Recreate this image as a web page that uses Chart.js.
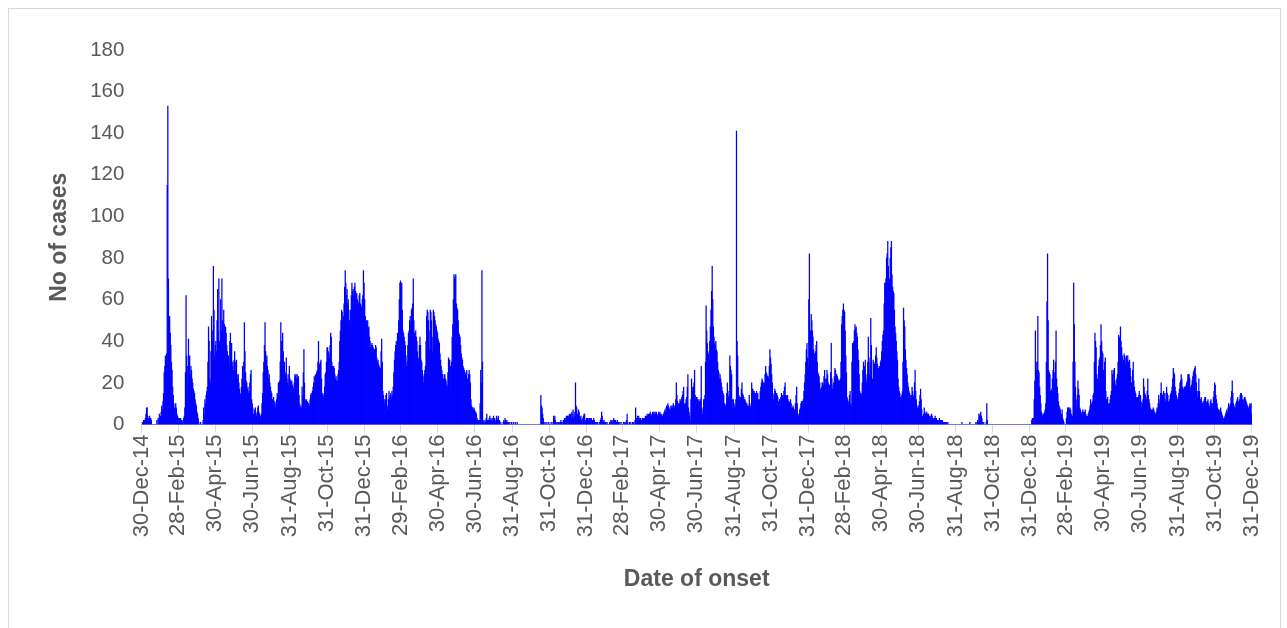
<!DOCTYPE html>
<html>
<head>
<meta charset="utf-8">
<script src="https://cdn.jsdelivr.net/npm/chart.js@4.4.1/dist/chart.umd.min.js"></script>
<style>
  body { margin: 0; background: #fff; }
  #wrap { position: relative; width: 1287px; height: 628px; }
  #frame { position: absolute; left: 8px; top: 8px; width: 1271px; height: 640px; border: 1px solid #d9d9d9; pointer-events: none; }
</style>
</head>
<body>
<div id="wrap">
  <canvas id="epiChart" width="1287" height="628"></canvas>
  <div id="frame"></div>
</div>
<script>
// daily counts, 30-Dec-2014 .. 31-Dec-2019, one line per month
const cases2014 = [0, 1];

const cases2015 = [
  1,2,2,2,3,5,8,8,4,3, 3,4,3,3,2,0,0,0,0,0, 0,0,0,2,0,3,2,5,3,4, 6,
  9,7,11,15,25,28,33,32,34,115, 153,70,52,52,44,38,30,26,18,14, 10,8,6,10,8,5,4,3,
  3,3,2,3,2,2,1,2,3,4, 8,25,62,33,28,18,41,30,33,24, 28,26,22,20,17,16,15,12,10,9, 6,
  5,3,1,0,0,1,0,0,0,2, 8,5,12,10,14,16,18,30,47,40, 22,20,35,52,45,40,76,55,33,38,
  40,35,50,65,45,70,40,35,60,45, 70,50,42,55,48,40,47,44,38,35, 30,33,28,40,44,32,39,28,30,26, 31,
  35,30,26,31,24,22,24,20,17,15, 14,18,22,28,20,30,49,35,25,21, 20,17,18,15,16,20,24,26,12,10,
  8,5,4,7,8,5,4,6,8,9, 6,5,3,4,5,10,15,25,30,38, 49,35,31,33,28,26,22,24,20,18, 16,
  15,12,10,13,9,11,8,10,12,15, 14,20,18,21,30,49,40,38,44,35, 28,30,25,24,32,22,20,24,19,28, 22,
  21,20,21,19,18,17,20,24,23,24, 22,24,22,23,14,10,8,9,8,18, 14,25,36,20,12,11,12,10,11,10,
  10,9,12,14,15,13,16,18,20,23, 18,24,22,25,26,30,40,28,29,30, 31,22,14,15,13,14,18,24,25,30, 37,
  37,35,34,32,38,44,42,30,28,25, 28,27,24,22,23,21,21,24,26,30, 40,45,50,55,54,50,52,58,66,74,
  68,62,65,58,60,55,50,45,55,62, 68,64,65,62,66,68,64,62,63,60, 59,58,62,63,58,57,56,60,62,74, 68
];

const cases2016 = [
  60,52,48,50,47,50,46,47,42,40, 37,38,39,38,37,36,36,35,38,37, 32,30,31,29,28,26,27,35,41,30, 16,
  14,12,10,12,14,15,9,7,12,16, 13,14,15,13,16,14,18,25,31,35, 38,40,37,44,42,50,60,68,69,
  66,68,55,45,44,42,40,38,33,28, 30,38,44,45,50,52,48,55,56,58, 70,50,44,42,45,42,40,35,32,31, 38,
  42,38,31,30,26,23,20,24,26,28, 40,52,55,54,50,45,36,55,54,50, 42,35,55,54,52,50,48,47,45,44,
  41,40,39,34,31,28,26,24,20,22, 24,24,22,21,19,18,25,32,31,31, 28,15,30,42,48,60,72,70,71,72, 58,
  56,55,50,44,43,42,38,34,32,31, 28,27,26,25,24,25,26,22,20,24, 26,24,20,12,9,8,8,7,8,7,
  6,6,5,3,2,2,1,2,10,26, 20,74,30,2,1,1,2,1,3,5, 2,1,2,3,4,2,3,2,1,3, 4,
  2,3,1,2,4,3,2,4,1,2, 0,1,0,0,0,1,2,1,3,2, 1,2,1,0,1,0,1,0,0,1, 0,
  0,1,0,0,1,0,0,1,0,0, 0,0,0,0,0,0,0,0,0,0, 0,0,0,0,0,0,0,0,0,0,
  0,0,0,0,0,0,0,0,0,0, 0,0,0,0,0,0,14,9,8,5, 3,1,0,1,0,0,1,0,0,1, 0,
  0,0,1,0,0,1,4,3,4,2, 1,0,1,0,1,1,0,1,2,1, 1,0,2,1,3,2,3,4,2,4,
  4,3,5,4,5,3,6,5,7,3, 4,6,20,9,8,5,4,7,6,4, 3,4,2,1,3,4,5,5,2,1, 3
];

const cases2017 = [
  3,3,2,3,3,2,3,3,2,2, 2,3,2,1,1,1,0,1,0,0, 1,1,2,3,6,4,2,1,2,1, 1,
  1,0,1,0,0,0,1,0,2,1, 2,1,2,3,2,1,2,1,1,2, 1,1,0,1,0,1,0,0,
  0,1,0,1,0,1,2,5,1,0, 0,1,0,1,0,0,1,0,1,0, 2,8,3,2,4,3,4,3,2,3, 2,
  2,3,2,3,2,3,4,3,4,5, 4,5,4,5,6,5,4,5,6,5, 6,5,6,5,6,5,4,5,6,5,
  6,5,4,5,4,4,5,6,7,6, 8,9,8,10,9,8,7,7,9,8, 9,8,10,9,8,9,12,20,14,11, 10,
  9,10,12,11,12,13,14,16,18,10, 9,10,12,13,18,24,8,6,4,2, 12,22,18,16,18,20,26,14,12,13,
  13,12,11,12,11,10,12,28,8,5, 7,12,12,14,30,57,45,39,35,34, 31,40,47,55,64,76,60,47,42,39, 38,
  40,36,35,30,26,25,22,24,22,20, 18,16,15,14,10,8,9,10,15,20, 16,13,14,33,28,26,24,12,8,12, 10,
  8,9,12,141,40,33,18,14,13,12, 13,17,20,15,14,13,12,12,11,10, 10,9,8,9,14,10,8,9,20,17,
  17,16,16,15,15,14,16,15,15,12, 7,12,16,18,20,22,21,20,19,20, 24,28,25,24,23,23,22,28,36,32, 29,
  24,20,15,12,14,17,16,15,15,14, 13,11,10,12,12,13,15,14,14,13, 16,18,20,14,13,14,14,12,11,10,
  11,12,10,8,8,9,8,7,7,10, 14,18,10,5,4,5,7,8,10,11, 11,11,12,16,20,24,30,36,39,32, 28
];

const cases2018 = [
  60,82,40,45,53,50,45,42,36,34, 34,35,38,40,30,25,24,23,20,17, 16,18,20,20,19,23,26,22,19,22, 26,
  24,20,19,19,18,25,39,22,17,19, 20,23,27,26,24,24,23,22,21,21, 21,22,30,48,52,55,58,55,
  54,45,33,25,13,12,11,10,14,16, 10,9,30,39,38,40,45,48,46,47, 44,42,36,31,24,16,15,15,14,20, 26,
  30,26,28,31,24,20,22,30,42,32, 24,30,51,38,18,22,31,30,29,29, 33,37,32,29,26,27,28,28,30,31,
  35,40,43,45,58,68,68,70,80,82, 88,76,68,70,80,85,88,72,66,64, 63,55,47,44,40,35,31,22,18,16, 15,
  13,12,14,16,30,56,50,47,36,31, 27,24,20,18,16,15,14,12,14,18, 16,13,14,20,26,16,12,9,8,7,
  9,11,14,17,12,7,4,2,5,8, 6,5,5,6,5,5,5,4,4,3, 4,5,4,3,2,3,3,4,3,3, 2,
  2,2,1,3,2,2,2,1,2,1, 1,1,1,1,0,1,0,1,0,0, 0,0,0,0,0,0,0,0,0,0, 0,
  0,0,0,0,0,0,0,0,0,1, 0,0,0,0,0,0,0,0,0,0, 0,0,1,0,0,0,0,0,0,0,
  0,0,1,0,1,2,1,5,4,5, 6,4,3,1,0,1,0,0,0,1, 10,2,0,0,0,0,0,0,0,0, 0,
  0,0,0,0,0,0,0,0,0,0, 0,0,0,0,0,0,0,0,0,0, 0,0,0,0,0,0,0,0,0,0,
  0,0,0,0,0,0,0,0,0,0, 0,0,0,0,0,0,0,0,0,0, 0,0,0,0,0,0,0,0,0,0, 0
];

const cases2019 = [
  0,0,2,3,2,3,12,21,45,30, 26,30,52,26,25,18,14,10,6,5, 4,5,5,6,7,10,30,59,82,50, 26,
  25,24,16,16,17,22,26,31,25,20, 30,45,22,18,15,11,9,8,7,4, 5,7,3,2,1,0,0,0,
  3,6,8,8,8,7,8,7,5,4, 4,30,68,48,30,18,12,8,14,21, 17,14,8,7,6,5,6,7,6,5, 6,
  7,5,4,3,4,5,6,7,9,12, 10,9,11,14,15,30,44,40,37,24, 22,21,28,31,32,38,48,40,35,34,
  26,22,30,32,16,12,12,13,10,9, 10,12,14,16,26,24,20,26,27,21, 19,18,22,24,30,43,41,42,47,40, 37,
  33,30,31,34,33,29,32,33,31,33, 30,28,31,27,23,20,18,26,30,21, 18,16,15,13,12,13,12,14,16,10,
  14,11,8,10,12,22,18,15,14,13, 12,16,22,14,12,10,8,7,7,6, 7,8,7,6,5,5,6,8,7,10, 14,
  10,12,15,20,15,14,13,16,15,12, 11,15,18,15,14,11,10,12,14,15, 16,18,22,27,25,24,18,16,14,12, 12,
  13,15,17,20,21,24,22,18,16,17, 18,18,18,19,20,21,24,24,24,22, 18,16,19,21,23,25,26,27,28,24,
  20,16,13,16,22,16,12,12,13,11, 10,9,11,12,13,13,11,10,11,12, 10,8,9,11,12,10,8,10,13,16, 20,
  19,14,12,10,8,7,7,6,7,8, 6,5,4,3,3,3,4,5,6,7, 6,8,10,9,8,10,13,16,21,15,
  10,9,8,8,10,11,12,13,11,10, 12,14,15,15,14,12,10,12,13,13, 12,11,10,9,8,8,9,10,9,10, 5
];

const tickLabels = [
  "30-Dec-14", "28-Feb-15", "30-Apr-15", "30-Jun-15", "31-Aug-15", "31-Oct-15", "31-Dec-15",
  "29-Feb-16", "30-Apr-16", "30-Jun-16", "31-Aug-16", "31-Oct-16", "31-Dec-16",
  "28-Feb-17", "30-Apr-17", "30-Jun-17", "31-Aug-17", "31-Oct-17", "31-Dec-17",
  "28-Feb-18", "30-Apr-18", "30-Jun-18", "31-Aug-18", "31-Oct-18", "31-Dec-18",
  "28-Feb-19", "30-Apr-19", "30-Jun-19", "31-Aug-19", "31-Oct-19", "31-Dec-19"
];

const monthNames = ["Jan","Feb","Mar","Apr","May","Jun","Jul","Aug","Sep","Oct","Nov","Dec"];
const startDate = Date.UTC(2014, 11, 30);

const cases = [].concat(cases2014, cases2015, cases2016, cases2017, cases2018, cases2019);

const dayLabels = cases.map((_, i) => {
  const d = new Date(startDate + i * 86400000);
  return `${d.getUTCDate()}-${monthNames[d.getUTCMonth()]}-${String(d.getUTCFullYear()).slice(2)}`;
});

const grey = "#595959";
const fontFamily = "'Liberation Sans', Arial, sans-serif";

const ctx = document.getElementById("epiChart").getContext("2d");

new Chart(ctx, {
  type: "bar",
  data: {
    labels: dayLabels,
    datasets: [{
      data: cases,
      backgroundColor: "#0000ff",
      borderWidth: 0,
      barPercentage: 1,
      categoryPercentage: 1
    }]
  },
  options: {
    responsive: false,
    animation: false,
    layout: { padding: { top: 50, right: 35, bottom: 0, left: 0 } },
    plugins: {
      legend: { display: false },
      tooltip: { enabled: false }
    },
    scales: {
      x: {
        grid: { drawOnChartArea: false, offset: false, color: "#d9d9d9", tickLength: 8 },
        border: { color: "#d9d9d9" },
        ticks: {
          autoSkip: false,
          minRotation: 90,
          maxRotation: 90,
          padding: 2,
          color: grey,
          font: { family: fontFamily, size: 22 }
        },
        afterBuildTicks: (scale) => {
          scale.ticks = scale.ticks.filter(t => tickLabels.includes(dayLabels[t.value]));
        },
        afterFit: (scale) => { scale.height = 203.5; },
        title: {
          display: true,
          text: "Date of onset",
          color: grey,
          font: { family: fontFamily, size: 23, weight: "bold" },
          padding: { top: 0, bottom: 35 }
        }
      },
      y: {
        min: 0,
        max: 180,
        grid: { display: false },
        border: { display: false },
        ticks: {
          stepSize: 20,
          padding: 9,
          color: grey,
          font: { family: fontFamily, size: 20.5 }
        },
        afterFit: (scale) => { scale.width = 141.4; },
        title: {
          display: true,
          text: "No of cases",
          color: grey,
          font: { family: fontFamily, size: 23, weight: "bold" },
          padding: { top: 46, bottom: 0 }
        }
      }
    }
  }
});
</script>
</body>
</html>
